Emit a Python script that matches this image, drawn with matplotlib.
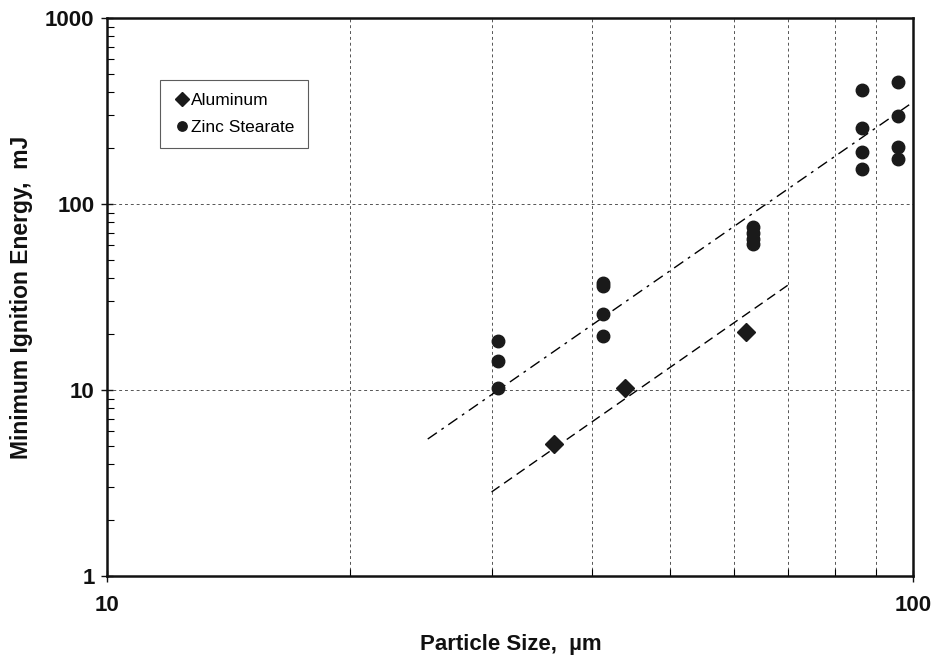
import matplotlib
matplotlib.use("Agg")
import matplotlib.pyplot as plt
from matplotlib.ticker import FixedLocator, NullFormatter

plt.rcParams['font.family'] = ['Liberation Sans', 'DejaVu Sans']

# Data
al_x = [35.9, 43.9, 62.1]
al_y = [5.12, 10.3, 20.5]

zn_x = [30.6, 30.6, 30.6,
        41.2, 41.2, 41.2, 41.2,
        63.4, 63.4, 63.4, 63.4,
        86.4, 86.4, 86.4, 86.4,
        95.8, 95.8, 95.8, 95.8]
zn_y = [18.3, 14.3, 10.3,
        37.5, 36.2, 25.6, 19.5,
        75.2, 69.8, 64.8, 60.9,
        410, 256, 190, 154,
        453, 297, 203, 175]

# fit lines (endpoints)
zn_fit_x = [25.0, 100.0]
zn_fit_y = [5.45, 353.0]
al_fit_x = [30.0, 70.0]
al_fit_y = [2.83, 36.7]

x_ticks = [10, 100]
x_tick_labels = ['10', '100']
y_ticks = [1, 10, 100, 1000]
y_tick_labels = ['1', '10', '100', '1000']

fig = plt.figure(figsize=(9.33, 6.56), dpi=100)
ax = fig.add_axes([107/933, 1-576/656, (913-107)/933, (576-18)/656])
ax.set_xscale('log')
ax.set_yscale('log')
ax.set_xlim(10, 100)
ax.set_ylim(1, 1000)

# grid
for xv in range(20, 100, 10):
    ax.axvline(xv, color='#555555', lw=0.7, ls=(0, (3, 3)), zorder=0)
for yv in [10, 100]:
    ax.axhline(yv, color='#555555', lw=0.7, ls=(0, (3, 3)), zorder=0)

ax.plot(zn_fit_x, zn_fit_y, color='black', lw=1.0,
        ls=(0, (8, 4, 2, 4)), zorder=2)
ax.plot(al_fit_x, al_fit_y, color='black', lw=1.0,
        ls=(0, (7, 4)), zorder=2)

ax.plot(al_x, al_y, 'D', color='#1a1a1a', ms=9, ls='none',
        label='Aluminum', zorder=3)
ax.plot(zn_x, zn_y, 'o', color='#1a1a1a', ms=9, ls='none',
        label='Zinc Stearate', zorder=3)

for sp in ax.spines.values():
    sp.set_linewidth(1.8)
    sp.set_color('#111111')

ax.xaxis.set_major_locator(FixedLocator(x_ticks))
ax.set_xticklabels(x_tick_labels)
ax.yaxis.set_major_locator(FixedLocator(y_ticks))
ax.set_yticklabels(y_tick_labels)
ax.xaxis.set_minor_locator(FixedLocator([20, 30, 40, 50, 60, 70, 80, 90]))
ax.xaxis.set_minor_formatter(NullFormatter())
ax.yaxis.set_minor_formatter(NullFormatter())

ax.tick_params(axis='both', which='major', direction='inout', length=8,
               width=1.0, labelsize=16, colors='#111111')
ax.tick_params(axis='x', which='major', pad=10)
ax.tick_params(axis='y', which='major', pad=5)
ax.tick_params(axis='both', which='minor', direction='in', length=5, width=0.8)
for lab in ax.get_xticklabels() + ax.get_yticklabels():
    lab.set_fontweight('bold')

fig.text(511/933, 1-650/656, 'Particle Size,  µm', fontsize=16,
         fontweight='bold', ha='center', va='baseline', color='#111111')
fig.text(22/933, 1-297/656, 'Minimum Ignition Energy,  mJ', fontsize=16.5,
         fontweight='bold', ha='center', va='center', rotation=90,
         color='#111111')

leg = ax.legend(loc='upper left', bbox_to_anchor=(0.066, 0.889),
                borderaxespad=0.0,
                fontsize=12.5, frameon=True, fancybox=False, handletextpad=0.05,
                handlelength=1.0, borderpad=0.75, labelspacing=0.7,
                markerscale=0.75)
leg.get_frame().set_edgecolor('#333333')
leg.get_frame().set_linewidth(0.8)

fig.savefig('out.png', dpi=100, facecolor='white')
